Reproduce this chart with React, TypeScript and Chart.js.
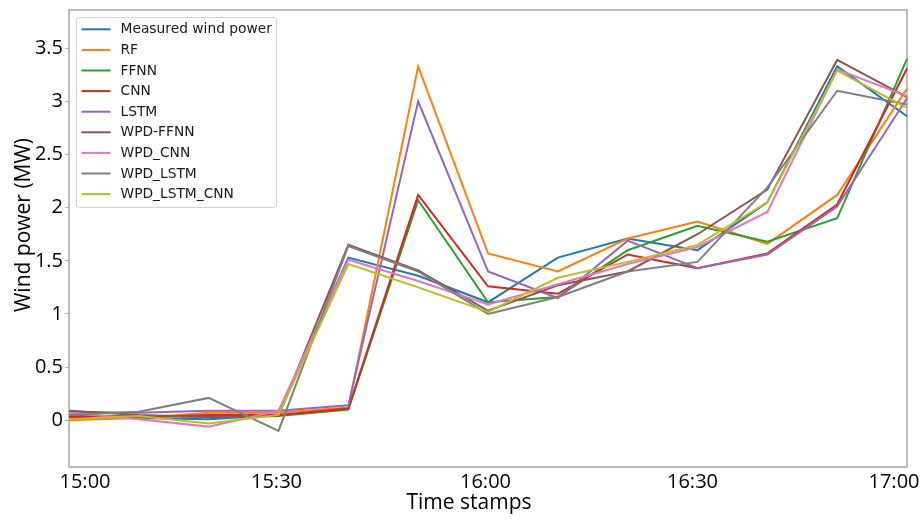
import React, { useEffect, useRef } from "react";
import { Chart, registerables } from "chart.js";
Chart.register(...registerables);

const timeStamps = ["15:00", "15:10", "15:20", "15:30", "15:40", "15:50", "16:00", "16:10", "16:20", "16:30", "16:40", "16:50", "17:00"];
const xTickLabels = ["15:00", "15:30", "16:00", "16:30", "17:00"];
const yTickValues = [0, 0.5, 1, 1.5, 2, 2.5, 3, 3.5];

const measured = [0.03, 0.02, 0.01, 0.05, 1.53, 1.36, 1.11, 1.53, 1.71, 1.6, 2.05, 3.33, 2.86];
const rf = [0.0, 0.02, 0.07, 0.07, 0.12, 3.33, 1.57, 1.4, 1.71, 1.87, 1.66, 2.12, 3.12];
const ffnn = [0.04, 0.04, 0.03, 0.04, 0.1, 2.07, 1.11, 1.16, 1.6, 1.83, 1.68, 1.9, 3.4];
const cnn = [0.03, 0.03, 0.05, 0.05, 0.11, 2.12, 1.26, 1.19, 1.56, 1.43, 1.57, 2.03, 3.31];
const lstm = [0.08, 0.07, 0.09, 0.09, 0.14, 3.0, 1.4, 1.15, 1.69, 1.43, 1.56, 2.01, 3.03];
const wpdFfnn = [0.09, 0.05, 0.03, 0.04, 1.65, 1.41, 1.03, 1.27, 1.4, 1.75, 2.17, 3.39, 3.04];
const wpdCnn = [0.07, 0.01, -0.06, 0.09, 1.51, 1.31, 1.09, 1.28, 1.47, 1.63, 1.96, 3.3, 3.05];
const wpdLstm = [0.05, 0.08, 0.21, -0.1, 1.64, 1.4, 1.0, 1.16, 1.4, 1.49, 2.19, 3.1, 2.97];
const wpdLstmCnn = [0.01, 0.04, -0.03, 0.05, 1.47, 1.25, 1.02, 1.34, 1.49, 1.65, 2.05, 3.29, 2.94];

const seriesNames = ["Measured wind power", "RF", "FFNN", "CNN", "LSTM", "WPD-FFNN", "WPD_CNN", "WPD_LSTM", "WPD_LSTM_CNN"];
const seriesColors = ["#1f77b4", "#ff7f0e", "#2ca02c", "#d62728", "#9467bd", "#8c564b", "#e377c2", "#7f7f7f", "#bcbd22"];

const xTitle = "Time stamps";
const yTitle = "Wind power (MW)";

// horizontal nudges of the x tick labels (styling only), matching the reference layout
const xLabelShift = [16, -2, -2.5, -5, -13];

const tickFont = { family: "'Open Sans', sans-serif", size: 20 };

export default function App() {
  const ref = useRef<HTMLCanvasElement>(null);
  useEffect(() => {
    const seriesValues = [measured, rf, ffnn, cnn, lstm, wpdFfnn, wpdCnn, wpdLstm, wpdLstmCnn];

    const framePlugin = {
      id: "frame",
      beforeDatasetsDraw(chart: any) {
        const { ctx, chartArea: a } = chart;
        ctx.save();
        ctx.strokeStyle = "#a8a8a8";
        ctx.lineWidth = 1.5;
        ctx.strokeRect(a.left, a.top, a.right - a.left, a.bottom - a.top);
        ctx.restore();
      },
    };

    const legendPlugin = {
      id: "innerLegend",
      afterDatasetsDraw(chart: any) {
        const { ctx, chartArea: a } = chart;
        const left = a.left + 7.5;
        const top = a.top + 7.5;
        const w = 200;
        const h = 190;
        ctx.save();
        ctx.beginPath();
        (ctx as any).roundRect(left, top, w, h, 3);
        ctx.fillStyle = "rgba(255,255,255,0.85)";
        ctx.fill();
        ctx.strokeStyle = "#d0d0d0";
        ctx.lineWidth = 1;
        ctx.stroke();
        ctx.font = "13.8px 'DejaVu Sans', sans-serif";
        ctx.textBaseline = "middle";
        ctx.textAlign = "left";
        seriesNames.forEach((name, i) => {
          const y = top + 11.8 + i * 20.6;
          ctx.strokeStyle = seriesColors[i];
          ctx.lineWidth = 2;
          ctx.beginPath();
          ctx.moveTo(left + 5, y);
          ctx.lineTo(left + 34, y);
          ctx.stroke();
          ctx.fillStyle = "#1a1a1a";
          ctx.fillText(name, left + 44, y + 0.5);
        });
        ctx.restore();
      },
    };

    const titlePlugin = {
      id: "titles",
      afterDraw(chart: any) {
        const { ctx, chartArea: a } = chart;
        const xs = chart.scales.x;
        ctx.save();
        ctx.fillStyle = "#000";
        ctx.font = "20px 'Open Sans', sans-serif";
        ctx.textAlign = "center";
        ctx.textBaseline = "alphabetic";
        xTickLabels.forEach((l, k) => {
          const idx = timeStamps.indexOf(l);
          const px = xs.getPixelForValue(idx);
          ctx.fillText(l, px + xLabelShift[k], a.bottom + 21);
        });
        ctx.font = "21px 'Open Sans', sans-serif";
        ctx.fillText(xTitle, 469, 509);
        ctx.translate(24, 225);
        ctx.rotate(-Math.PI / 2);
        ctx.textBaseline = "middle";
        ctx.fillText(yTitle, 0, 0);
        ctx.restore();
      },
    };

    const chart = new Chart(ref.current!, {
      type: "line",
      data: {
        labels: timeStamps,
        datasets: seriesNames.map((n, i) => ({
          label: n,
          data: seriesValues[i],
          borderColor: seriesColors[i],
          backgroundColor: seriesColors[i],
          borderWidth: 2,
          pointRadius: 0,
          tension: 0,
          order: seriesNames.length - i,
        })),
      },
      options: {
        animation: false,
        responsive: false,
        layout: { padding: { top: 10, right: 15, left: 0, bottom: 0 } },
        plugins: { legend: { display: false }, tooltip: { enabled: false } },
        scales: {
          x: {
            type: "category",
            offset: false,
            grid: { display: false },
            border: { display: false },
            ticks: { display: false },
            afterFit: (s: any) => {
              s.height = 53;
              s.paddingLeft = 0;
              s.paddingRight = 0;
            },
          },
          y: {
            min: -0.44,
            max: 3.86,
            afterBuildTicks: (s: any) => {
              s.ticks = yTickValues.map((v) => ({ value: v }));
            },
            grid: { display: true, drawOnChartArea: false, drawTicks: true, tickLength: 4, color: "#b0b0b0" },
            border: { display: false },
            ticks: {
              font: tickFont,
              color: "#000",
              padding: 2,
              callback: (v: any) => String(v),
            },
            afterFit: (s: any) => {
              s.width = 69;
              s.paddingTop = 0;
              s.paddingBottom = 0;
            },
          },
        },
      },
      plugins: [framePlugin, legendPlugin, titlePlugin],
    });
    return () => chart.destroy();
  }, []);
  return (
    <div style={{ position: "fixed", left: 0, top: 0, width: 922, height: 520, background: "#fff" }}>
      <canvas ref={ref} width={922} height={520} style={{ display: "block", width: 922, height: 520 }} />
    </div>
  );
}
